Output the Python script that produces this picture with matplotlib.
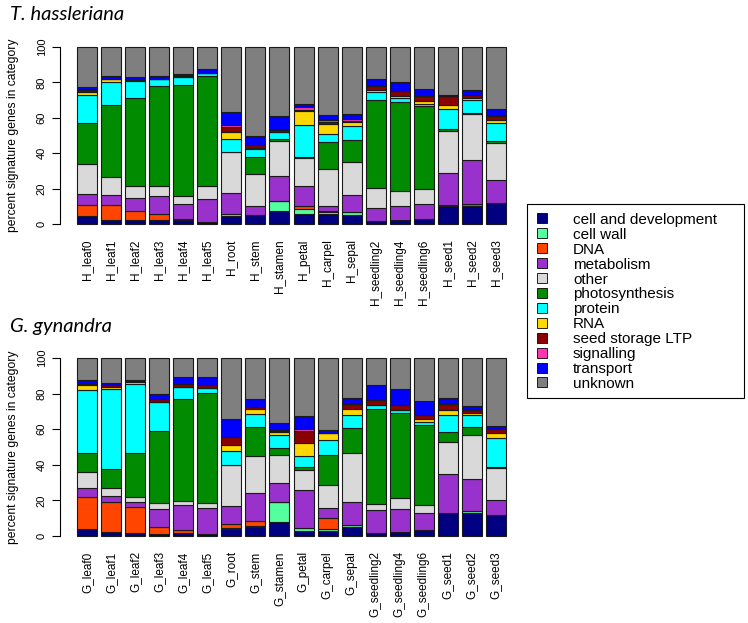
import numpy as np
import matplotlib
matplotlib.use('Agg')
import matplotlib.pyplot as plt
from matplotlib.patches import Rectangle

plt.rcParams['font.family'] = ['Liberation Sans', 'DejaVu Sans']

tissues = ['leaf0', 'leaf1', 'leaf2', 'leaf3', 'leaf4', 'leaf5', 'root', 'stem', 'stamen',
           'petal', 'carpel', 'sepal', 'seedling2', 'seedling4', 'seedling6', 'seed1', 'seed2', 'seed3']

categories = ['cell and development', 'cell wall', 'DNA', 'metabolism', 'other', 'photosynthesis',
              'protein', 'RNA', 'seed storage LTP', 'signalling', 'transport', 'unknown']
colors = ['#000080', '#54FF9F', '#FF4500', '#9932CC', '#D9D9D9', '#008B00',
          '#00FFFF', '#FFD700', '#8B0000', '#FF34B3', '#0000FF', '#7F7F7F']

# T. hassleriana (percent per category, bottom to top)
h_cell_dev = [4.3, 2.4, 2.4, 2.3, 2.1, 1.0, 4.3, 5.3, 7.5, 5.6, 5.8, 5.3, 1.9, 2.4, 2.8, 10.0, 10.0, 12.0]
h_cell_wall = [0, 0, 0, 0, 0, 0, 1.1, 0, 5.3, 2.8, 1.1, 1.3, 0, 0, 0, 0, 0, 0]
h_dna = [6.4, 8.1, 4.7, 3.2, 0.6, 0, 0.3, 0, 0, 1.5, 0.3, 0, 0, 0, 0, 0.5, 1.0, 0]
h_metabolism = [6.2, 5.6, 7.3, 10.2, 8.5, 13.2, 11.7, 5.1, 14.5, 11.3, 3.0, 9.6, 7.2, 7.5, 8.5, 18.1, 25.0, 13.0]
h_other = [17.0, 10.7, 7.3, 5.5, 4.5, 7.2, 23.0, 17.9, 19.4, 16.0, 21.1, 18.6, 11.3, 8.5, 8.5, 23.7, 26.0, 21.0]
h_photo = [23.4, 40.5, 49.7, 56.7, 62.9, 62.5, 0.3, 9.4, 1.3, 0.9, 15.3, 12.8, 49.9, 50.8, 46.7, 1.3, 1.0, 1.0]
h_protein = [15.6, 13.2, 9.6, 4.1, 4.3, 1.5, 7.2, 4.7, 3.8, 17.9, 4.5, 7.5, 4.1, 1.9, 1.5, 11.3, 7.0, 10.0]
h_rna = [1.5, 1.3, 0.2, 0, 0, 0, 4.2, 0.5, 0.4, 7.9, 5.6, 2.8, 1.5, 1.5, 1.3, 2.3, 1.0, 2.0]
h_ltp = [1.3, 0.3, 0.3, 0, 0.5, 0, 2.8, 1.7, 0.8, 0.5, 1.1, 0.3, 1.9, 2.3, 3.2, 5.3, 2.0, 2.0]
h_signalling = [0.3, 0, 0, 0, 0, 0, 0.8, 0.3, 0.6, 1.9, 0.8, 0.9, 0, 0, 0, 0, 0, 0]
h_transport = [1.5, 1.5, 1.7, 1.9, 1.5, 2.2, 7.5, 5.1, 7.5, 1.3, 2.8, 2.8, 4.1, 5.6, 3.8, 0.3, 3.0, 4.0]
h_unknown = [22.5, 16.4, 16.8, 16.1, 15.1, 12.4, 36.8, 50.0, 38.9, 32.4, 38.6, 38.1, 18.1, 19.5, 23.7, 27.2, 24.0, 35.0]

# G. gynandra
g_cell_dev = [3.9, 2.4, 1.5, 0.9, 1.5, 0.9, 3.9, 5.2, 7.7, 2.8, 3.0, 5.2, 1.5, 2.4, 3.4, 12.7, 13.0, 12.0]
g_cell_wall = [0, 0, 0, 0, 0, 0, 0.8, 0.5, 11.5, 1.9, 0.9, 1.0, 0, 0, 0, 0, 1.0, 0]
g_dna = [17.9, 16.4, 14.6, 4.3, 1.9, 0, 2.0, 2.8, 0, 0, 6.4, 0, 0, 0, 0, 0.3, 0, 0]
g_metabolism = [5.0, 3.7, 3.2, 10.0, 13.8, 15.0, 10.2, 15.5, 10.7, 21.2, 5.3, 13.1, 13.1, 12.6, 9.3, 21.8, 18.0, 8.0]
g_other = [9.4, 4.3, 2.8, 3.2, 2.5, 2.5, 23.1, 21.0, 15.6, 11.2, 12.9, 27.2, 3.4, 6.2, 4.7, 18.2, 25.0, 18.0]
g_photo = [10.3, 10.7, 24.8, 40.7, 57.2, 61.9, 0, 16.0, 4.1, 1.9, 16.9, 14.1, 53.3, 48.2, 45.1, 5.6, 4.0, 1.0]
g_protein = [35.3, 45.0, 38.5, 16.3, 6.8, 2.8, 7.9, 7.5, 7.1, 6.0, 8.8, 7.3, 2.4, 1.5, 1.5, 9.4, 7.0, 16.0]
g_rna = [3.2, 1.5, 1.3, 0, 0, 0, 3.4, 2.8, 1.9, 7.5, 3.8, 3.4, 0, 0, 1.9, 2.8, 1.0, 3.0]
g_ltp = [0.5, 1.0, 0.6, 1.5, 1.7, 1.5, 4.3, 1.1, 0.4, 6.6, 0, 2.8, 2.8, 2.8, 2.2, 3.4, 2.0, 2.0]
g_signalling = [0, 0, 0, 0, 0, 0, 0, 0, 0.6, 1.1, 0, 0, 0, 0, 0, 0, 0, 0]
g_transport = [2.3, 0.9, 0.5, 2.8, 3.9, 4.7, 10.2, 4.7, 4.1, 7.5, 1.5, 3.4, 8.5, 9.0, 7.9, 3.2, 2.0, 2.0]
g_unknown = [12.2, 14.1, 12.2, 20.3, 10.7, 10.7, 34.2, 22.9, 36.3, 32.3, 40.5, 22.5, 15.0, 17.3, 24.0, 22.6, 27.0, 38.0]

h_data = [h_cell_dev, h_cell_wall, h_dna, h_metabolism, h_other, h_photo, h_protein,
          h_rna, h_ltp, h_signalling, h_transport, h_unknown]
g_data = [g_cell_dev, g_cell_wall, g_dna, g_metabolism, g_other, g_photo, g_protein,
          g_rna, g_ltp, g_signalling, g_transport, g_unknown]

W, H = 748, 623
fig = plt.figure(figsize=(W / 100, H / 100), dpi=100)


def px_axes(left, top, right, bottom):
    return fig.add_axes([left / W, 1 - bottom / H, (right - left) / W, (bottom - top) / H])


def stacked(ax, data, prefix):
    x = 0.7 + 1.2 * np.arange(len(tissues))
    bottom = np.zeros(len(tissues))
    for vals, col in zip(data, colors):
        vals = np.array(vals, dtype=float)
        ax.bar(x, vals, width=1.0, bottom=bottom, color=col,
               edgecolor='#1a1a1a', linewidth=0.8)
        bottom += vals
    ax.set_xlim(-0.656, 22.456)
    ax.set_ylim(-4, 104)
    for s in ['top', 'right', 'bottom']:
        ax.spines[s].set_visible(False)
    ax.spines['left'].set_bounds(0, 100)
    ax.spines['left'].set_linewidth(0.8)
    ax.set_yticks([0, 20, 40, 60, 80, 100])
    ax.set_yticklabels(['0', '20', '40', '60', '80', '100'], rotation=90, va='center', fontsize=8)
    ax.tick_params(axis='y', length=5.5, width=0.8, pad=4)
    ax.set_xticks(x)
    ax.set_xticklabels([prefix + t for t in tissues], rotation=90, fontsize=8.5)
    ax.tick_params(axis='x', length=0, pad=6)
    ax.set_ylabel('percent signature genes in category', fontsize=8.7, labelpad=13)


ax1 = px_axes(60, 40, 523, 231)
stacked(ax1, h_data, 'H_')
ax2 = px_axes(60, 351, 523, 543)
stacked(ax2, g_data, 'G_')

fig.text(10 / W, 1 - 20 / H, 'T. hassleriana', fontsize=14.5, style='italic',
         family=['Lato', 'Open Sans', 'DejaVu Sans'], va='baseline')
fig.text(10 / W, 1 - 332 / H, 'G. gynandra', fontsize=14.5, style='italic',
         family=['Lato', 'Open Sans', 'DejaVu Sans'], va='baseline')

# legend box drawn by hand (R-style, tight rows)
fig.patches.append(Rectangle((527 / W, 1 - 398 / H), 217 / W, 194 / H, transform=fig.transFigure,
                             facecolor='white', edgecolor='black', linewidth=0.8))
row0, pitch = 218.5, 14.9
for i, (lab, col) in enumerate(zip(categories, colors)):
    yc = row0 + i * pitch
    fig.patches.append(Rectangle((537 / W, 1 - (yc + 5) / H), 10 / W, 10 / H,
                                 transform=fig.transFigure, facecolor=col,
                                 edgecolor='black', linewidth=0.6))
    fig.text(573 / W, 1 - yc / H, lab, fontsize=11, va='center_baseline', ha='left')

fig.savefig('out.png', dpi=100)
